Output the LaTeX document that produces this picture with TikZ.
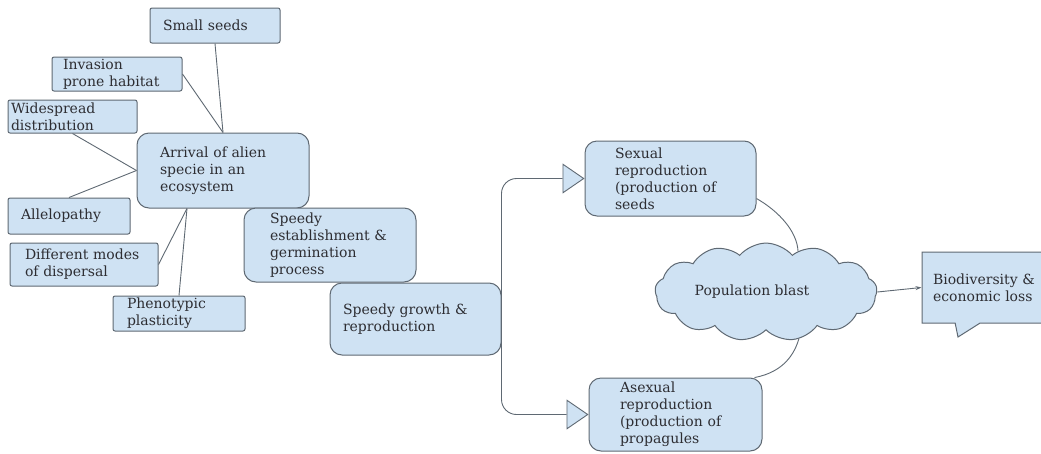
\documentclass[tikz,border=0pt]{standalone}
\usepackage{fontspec}
\setmainfont{DejaVu Serif}
\usetikzlibrary{arrows.meta,shapes.symbols,shapes.callouts}
\definecolor{boxfill}{RGB}{207,226,243}
\definecolor{boxline}{RGB}{95,105,115}
\definecolor{txt}{RGB}{45,45,50}
\begin{document}
\begin{tikzpicture}[x=1pt,y=-1pt,
  every node/.style={font=\fontsize{14}{17}\selectfont, text=txt},
  sbox/.style={draw=boxline, fill=boxfill, line width=1pt, rounded corners=2pt, align=left, inner ysep=0pt},
  rbox/.style={sbox, rounded corners=12pt},
  conn/.style={draw=boxline, line width=0.9pt},
  branch/.style={conn, rounded corners=15pt, -{Triangle[length=22pt,width=30pt,fill=boxfill]}}]
\useasboundingbox (0,0) rectangle (1041,453);
\clip (0,0) rectangle (1041,453);
\fill[white] (0,0) rectangle (1041,453);

% left cluster
\node[sbox, minimum width=130pt, minimum height=35pt, inner xsep=13pt, text width=104pt] (ss) at (215,25.5) {Small seeds};
\node[sbox, minimum width=130pt, minimum height=34pt, inner xsep=11pt, text width=108pt] (inv) at (117,74) {Invasion\\prone habitat};
\node[sbox, minimum width=129pt, minimum height=33pt, inner xsep=3pt, text width=123pt] (wid) at (72.5,116.5) {Widespread\\distribution};
\node[rbox, minimum width=172pt, minimum height=75pt, inner xsep=23pt, text width=126pt] (arr) at (223,170.5) {Arrival of alien\\specie in an\\ecosystem};
\node[sbox, minimum width=122pt, minimum height=36pt, inner xsep=13pt, text width=96pt] (all) at (69,216) {Allelopathy};
\node[sbox, minimum width=148pt, minimum height=43pt, inner xsep=15pt, text width=118pt] (dif) at (84,264.5) {Different modes\\of dispersal};
\node[sbox, minimum width=132pt, minimum height=35pt, inner xsep=14pt, text width=104pt] (phe) at (179,313.5) {Phenotypic\\plasticity};

% middle
\node[rbox, minimum width=172pt, minimum height=74pt, inner xsep=26pt, text width=120pt] (sea) at (330,245) {Speedy\\establishment \&\\germination\\process};
\node[rbox, minimum width=171pt, minimum height=72pt, inner xsep=13pt, text width=145pt] (sgr) at (415.5,319) {Speedy growth \&\\reproduction};

% right
\node[rbox, minimum width=171pt, minimum height=75pt, inner xsep=30pt, text width=111pt] (sex) at (670.5,178.5) {Sexual\\reproduction\\(production of\\seeds};
\node[rbox, minimum width=173pt, minimum height=73pt, inner xsep=31pt, text width=111pt] (ase) at (675.5,414.5) {Asexual\\reproduction\\(production of\\propagules};
\node[cloud, cloud puffs=13, cloud puff arc=100, aspect=2.6, draw=boxline, fill=boxfill, line width=1pt, minimum width=222pt, minimum height=85pt, inner sep=0pt] (pb) at (766,292) {Population blast\hspace*{28pt}};
\node[rectangle callout, draw=boxline, fill=boxfill, line width=1pt, minimum width=140pt, minimum height=71pt, inner xsep=11pt, inner ysep=0pt, text width=118pt, align=left, callout absolute pointer={(958,337)}, callout pointer width=25pt] (bio) at (992,287.5) {Biodiversity \&\\economic loss};

% connectors
\draw[conn] (ss.south) -- (arr.north);
\draw[conn] (inv.east) -- (arr.north);
\draw[conn] (wid.south) -- (arr.west);
\draw[conn] (all.north) -- (arr.west);
\draw[conn] (dif.east) -- ([xshift=-36pt]arr.south);
\draw[conn] (phe.north) -- ([xshift=-36pt]arr.south);

\draw[branch] (sgr.east) |- (sex.west);
\draw[branch] (sgr.east) |- (ase.west);

\draw[conn] ([yshift=-20pt]sex.east) .. controls (780,212) and (797,232) .. (pb.52);
\draw[conn] ([xshift=-8pt]ase.north east) .. controls (785,372) and (795,352) .. (pb.305);
\draw[conn, -{Stealth[length=6pt,width=4pt]}] (pb.east) -- (bio.west);
\end{tikzpicture}
\end{document}
